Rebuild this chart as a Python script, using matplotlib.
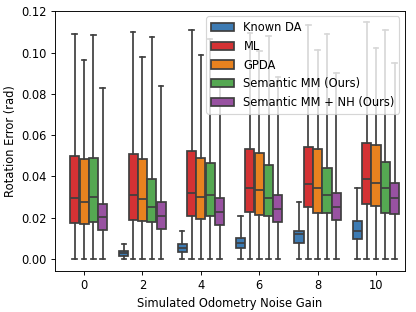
import numpy as np
import matplotlib.pyplot as plt
from matplotlib.patches import Patch

# x categories (odometry noise gain)
gains = [0, 2, 4, 6, 8, 10]
methods = ["Known DA", "ML", "GPDA", "Semantic MM (Ours)", "Semantic MM + NH (Ours)"]
colors = ["#3d7bb3", "#d43234", "#e8821f", "#55a852", "#9852a1"]
edge = "#3f3f3f"

# box stats, one list per method (nan = no box)
q1 = {
    "Known DA": [np.nan, 0.0016, 0.0032, 0.0052, 0.0076, 0.0097],
    "ML": [0.0173, 0.0189, 0.0208, 0.0229, 0.0254, 0.0267],
    "GPDA": [0.0170, 0.0183, 0.0192, 0.0212, 0.0225, 0.0255],
    "Semantic MM (Ours)": [0.0178, 0.0181, 0.0208, 0.0208, 0.0221, 0.0221],
    "Semantic MM + NH (Ours)": [0.0139, 0.0146, 0.0165, 0.0181, 0.0189, 0.0218],
}
med = {
    "Known DA": [np.nan, 0.0028, 0.0055, 0.0079, 0.0120, 0.0137],
    "ML": [0.0297, 0.0309, 0.0320, 0.0343, 0.0365, 0.0388],
    "GPDA": [0.0276, 0.0293, 0.0301, 0.0335, 0.0346, 0.0367],
    "Semantic MM (Ours)": [0.0301, 0.0254, 0.0312, 0.0296, 0.0309, 0.0346],
    "Semantic MM + NH (Ours)": [0.0205, 0.0208, 0.0226, 0.0242, 0.0252, 0.0294],
}
q3 = {
    "Known DA": [np.nan, 0.0037, 0.0071, 0.0103, 0.0137, 0.0184],
    "ML": [0.0498, 0.0508, 0.0524, 0.0532, 0.0544, 0.0561],
    "GPDA": [0.0484, 0.0484, 0.0490, 0.0515, 0.0533, 0.0553],
    "Semantic MM (Ours)": [0.0491, 0.0386, 0.0466, 0.0454, 0.0440, 0.0472],
    "Semantic MM + NH (Ours)": [0.0268, 0.0276, 0.0294, 0.0309, 0.0318, 0.0367],
}
whi_max = {
    "Known DA": [np.nan, 0.0074, 0.0136, 0.0208, 0.0275, 0.0343],
    "ML": [0.1088, 0.1098, 0.1109, 0.1096, 0.1135, 0.1146],
    "GPDA": [0.0964, 0.0978, 0.0988, 0.1007, 0.1010, 0.1020],
    "Semantic MM (Ours)": [0.1083, 0.1077, 0.1064, 0.1080, 0.1090, 0.1111],
    "Semantic MM + NH (Ours)": [0.0829, 0.0839, 0.0849, 0.0880, 0.0900, 0.0947],
}
whi_min = 0.0

fig = plt.figure(figsize=(5, 3.75), dpi=83.2)
ax = fig.add_axes([0.132, 0.132, 0.842, 0.834])

n = len(methods)
each = 0.8 / n
for k, m in enumerate(methods):
    offset = -0.4 + each * (k + 0.5)
    stats, pos = [], []
    for i in range(len(gains)):
        if np.isnan(med[m][i]):
            continue
        stats.append(dict(med=med[m][i], q1=q1[m][i], q3=q3[m][i],
                          whislo=whi_min, whishi=whi_max[m][i], fliers=[]))
        pos.append(i + offset)
    ax.bxp(stats, positions=pos, widths=each * 0.98, patch_artist=True,
           showfliers=False, manage_ticks=False,
           boxprops=dict(facecolor=colors[k], edgecolor=edge, linewidth=1.5),
           whiskerprops=dict(color=edge, linewidth=1.5),
           capprops=dict(color=edge, linewidth=1.5),
           medianprops=dict(color=edge, linewidth=1.5))

ax.set_xlim(-0.5, len(gains) - 0.5)
ax.set_xticks(range(len(gains)))
ax.set_xticklabels([str(g) for g in gains])
ax.set_yticks(np.arange(0, 0.121, 0.02))
ax.yaxis.set_major_formatter(plt.FormatStrFormatter("%.2f"))
ax.set_ylim(-0.0057, 0.1203)
ax.set_xlabel("Simulated Odometry Noise Gain")
ax.set_ylabel("Rotation Error (rad)")

handles = [Patch(facecolor=c, edgecolor=edge, linewidth=1.5, label=m)
           for m, c in zip(methods, colors)]
ax.legend(handles=handles, loc="upper right")

fig.savefig("out.png", dpi=83.2)
